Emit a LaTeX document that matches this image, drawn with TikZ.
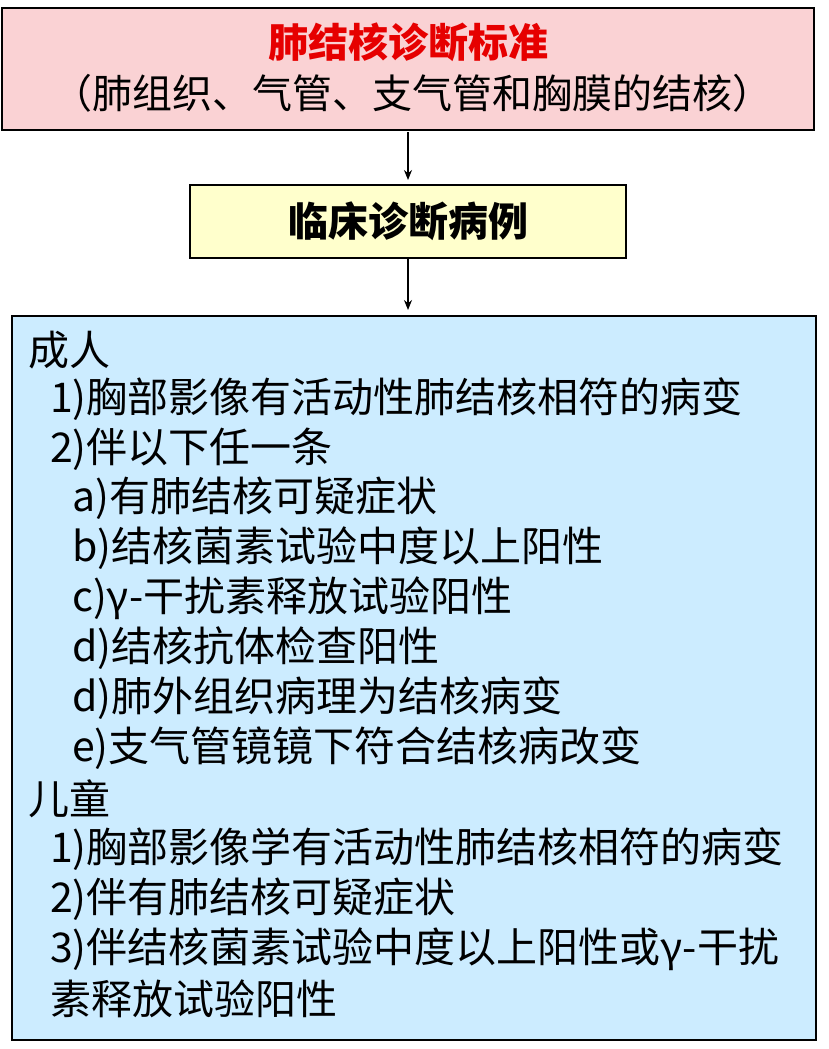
\documentclass[tikz,border=0pt]{standalone}
\usepackage{fontspec}
\usetikzlibrary{arrows.meta}
\newfontfamily\cjk{Noto Sans CJK SC}
\definecolor{pinkf}{RGB}{250,210,212}
\definecolor{redt}{RGB}{230,0,0}
\definecolor{yelf}{RGB}{255,255,204}
\definecolor{bluef}{RGB}{204,236,255}
\begin{document}
\begin{tikzpicture}[x=1pt,y=1pt,
  boxx/.style={draw=black,line width=1.5pt},
  txt/.style={anchor=west,inner sep=0pt,font=\cjk\fontsize{41}{46}\selectfont},
  arr/.style={-{Stealth[length=10pt,width=8pt]},line width=1.2pt}]
\useasboundingbox (0,0) rectangle (828,-1049);
\fill[white] (0,0) rectangle (828,-1049);
\draw[boxx,fill=pinkf] (2,-8) rectangle (814,-130);
\node[inner sep=0pt,text=redt,font=\cjk\bfseries\fontsize{40}{44}\selectfont] (t1) at (408,-42) {肺结核诊断标准};
\node[inner sep=0pt,font=\cjk\fontsize{40}{44}\selectfont] (t2) at (412,-93) {（肺组织、气管、支气管和胸膜的结核）};
\coordinate (a1) at (408,-132);
\coordinate (a2) at (408,-180);
\draw[arr] (a1) -- (a2);
\node[boxx,fill=yelf,minimum width=436pt,minimum height=73pt,font=\cjk\bfseries\fontsize{40}{44}\selectfont] (b2) at (408,-221.5) {临床诊断病例};
\coordinate (a3) at (408,-310);
\draw[arr] (b2.south) -- (a3);
\draw[boxx,fill=bluef] (12,-316) rectangle (816,-1040);
\node[txt] (l1) at (28,-350) {成人};
\node[txt] (l2) at (50,-399) {1)胸部影像有活动性肺结核相符的病变};
\node[txt] (l3) at (50,-449) {2)伴以下任一条};
\node[txt] (l4) at (72,-498) {a)有肺结核可疑症状};
\node[txt] (l5) at (72,-548) {b)结核菌素试验中度以上阳性};
\node[txt] (l6) at (72,-598) {c)γ-干扰素释放试验阳性};
\node[txt] (l7) at (72,-648) {d)结核抗体检查阳性};
\node[txt] (l8) at (72,-698) {d)肺外组织病理为结核病变};
\node[txt] (l9) at (72,-748) {e)支气管镜镜下符合结核病改变};
\node[txt] (l10) at (28,-799) {儿童};
\node[txt] (l11) at (50,-849) {1)胸部影像学有活动性肺结核相符的病变};
\node[txt] (l12) at (50,-899) {2)伴有肺结核可疑症状};
\node[txt] (l13) at (50,-949) {3)伴结核菌素试验中度以上阳性或γ-干扰};
\node[txt] (l14) at (50,-999) {素释放试验阳性};
\end{tikzpicture}
\end{document}
